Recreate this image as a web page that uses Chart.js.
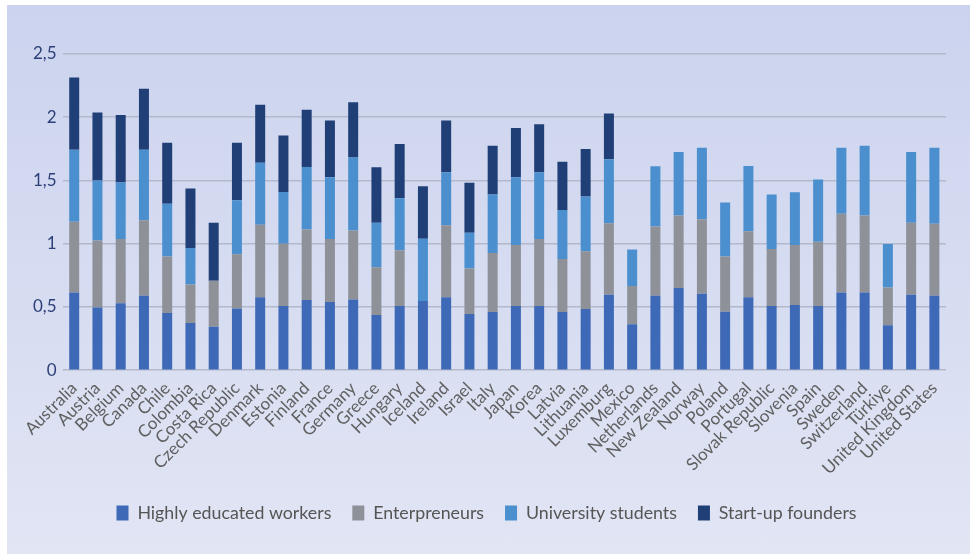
<!DOCTYPE html>
<html>
<head>
<meta charset="utf-8">
<script src="https://cdn.jsdelivr.net/npm/chart.js@4.4.0/dist/chart.umd.min.js"></script>
<style>
  html, body { margin: 0; padding: 0; background: #fff; }
  #wrap {
    position: absolute; left: 7px; top: 5px; width: 963px; height: 549px;
    background: linear-gradient(#cbd3ee, #e1e5f4);
  }
  canvas { display: block; }
</style>
</head>
<body>
<div id="wrap"><canvas id="chart" width="963" height="549"></canvas></div>
<script>
const countries = ['Australia', 'Austria', 'Belgium', 'Canada', 'Chile', 'Colombia', 'Costa Rica',
  'Czech Republic', 'Denmark', 'Estonia', 'Finland', 'France', 'Germany', 'Greece', 'Hungary',
  'Iceland', 'Ireland', 'Israel', 'Italy', 'Japan', 'Korea', 'Latvia', 'Lithuania', 'Luxemburg',
  'Mexico', 'Netherlands', 'New Zealand', 'Norway', 'Poland', 'Portugal', 'Slovak Republic',
  'Slovenia', 'Spain', 'Sweden', 'Switzerland', 'Türkiye', 'United Kingdom', 'United States'];

const highlyEducated = [0.615, 0.495, 0.529, 0.589, 0.453, 0.374, 0.343, 0.487, 0.576, 0.508,
  0.555, 0.539, 0.558, 0.437, 0.508, 0.547, 0.576, 0.445, 0.461, 0.508, 0.508, 0.461, 0.484,
  0.597, 0.364, 0.589, 0.649, 0.605, 0.463, 0.576, 0.508, 0.516, 0.508, 0.615, 0.615, 0.356,
  0.597, 0.589];
const entrepreneurs = [0.558, 0.531, 0.508, 0.597, 0.445, 0.304, 0.364, 0.429, 0.573, 0.492,
  0.558, 0.498, 0.547, 0.377, 0.44, 0, 0.571, 0.359, 0.466, 0.482, 0.529, 0.419, 0.456,
  0.565, 0.301, 0.547, 0.574, 0.589, 0.435, 0.523, 0.45, 0.474, 0.508, 0.621, 0.608, 0.298,
  0.568, 0.568];
const uniStudents = [0.57, 0.474, 0.447, 0.557, 0.419, 0.288, 0, 0.427, 0.492, 0.408,
  0.494, 0.489, 0.576, 0.351, 0.411, 0.492, 0.418, 0.282, 0.463, 0.536, 0.528, 0.387, 0.434,
  0.506, 0.29, 0.477, 0.502, 0.565, 0.427, 0.516, 0.432, 0.416, 0.492, 0.523, 0.552, 0.343,
  0.56, 0.602];
const startupFounders = [0.571, 0.537, 0.534, 0.482, 0.481, 0.471, 0.458, 0.455, 0.458, 0.448,
  0.453, 0.448, 0.437, 0.44, 0.429, 0.416, 0.409, 0.396, 0.385, 0.388, 0.38, 0.382, 0.375,
  0.361, 0, 0, 0, 0, 0, 0, 0, 0, 0, 0, 0, 0, 0, 0];

const yTicks = [0, 0.5, 1, 1.5, 2, 2.5];
const tickText = ['0', '0,5', '1', '1,5', '2', '2,5'];

const font = 'Lato, "Open Sans", sans-serif';

function ds(label, data, color) {
  return { label, data, backgroundColor: color, barPercentage: 0.43, categoryPercentage: 1 };
}

new Chart(document.getElementById('chart'), {
  type: 'bar',
  data: {
    labels: countries,
    datasets: [
      ds('Highly educated workers', highlyEducated, '#3e69b6'),
      ds('Enterpreneurs', entrepreneurs, '#8f9199'),
      ds('University students', uniStudents, '#4b8fcf'),
      ds('Start-up founders', startupFounders, '#213f77'),
    ],
  },
  options: {
    responsive: false,
    animation: false,
    layout: { padding: { left: 20, right: 24, top: 49, bottom: 22 } },
    plugins: {
      tooltip: { enabled: false },
      legend: {
        position: 'bottom',
        labels: {
          boxWidth: 12, boxHeight: 15, padding: 21,
          color: '#555', font: { family: font, size: 17.8 },
        },
      },
    },
    scales: {
      x: {
        stacked: true,
        grid: { display: false },
        border: { display: false },
        afterFit: (scale) => { scale.height = 113; },
        ticks: {
          autoSkip: false, maxRotation: 45, minRotation: 45,
          color: '#606060', font: { family: font, size: 17 }, padding: 0,
        },
      },
      y: {
        stacked: true,
        min: 0, max: 2.5,
        afterBuildTicks: (scale) => { scale.ticks = yTicks.map((v) => ({ value: v })); },
        grid: { color: '#b3b9cb', lineWidth: 1.5, drawTicks: false },
        border: { display: false },
        ticks: {
          color: '#2c3f78', font: { family: font, size: 17 }, padding: 6,
          callback: (v) => tickText[yTicks.indexOf(v)],
        },
      },
    },
  },
});
</script>
</body>
</html>
